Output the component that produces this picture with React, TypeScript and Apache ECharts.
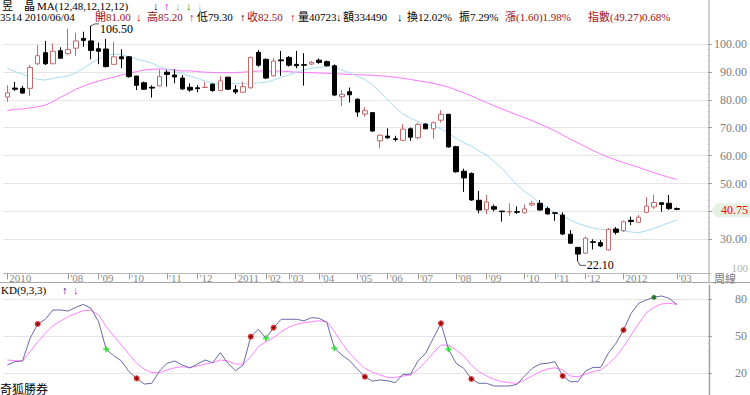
import React, { useEffect, useRef } from 'react';
import * as echarts from 'echarts';

// Weekly candles for 3514 昱晶, first week 2010/06/04
const opens = [81.0, 84.2, 84.1, 84.1, 92.9, 96.9, 92.9, 97.6, 96.5, 98.5, 102.0, 101.1, 98.3, 98.2, 92.7, 95.4, 95.4, 88.5, 86.1, 84.5, 85.0, 89.9, 88.9, 87.8, 84.5, 84.3, 84.4, 85.6, 83.3, 88.1, 83.6, 82.7, 84.3, 97.0, 94.5, 88.6, 94.3, 95.2, 92.7, 92.6, 92.8, 94.2, 93.7, 92.2, 81.1, 82.9, 80.2, 74.9, 75.4, 65.3, 67.0, 66.0, 65.5, 69.6, 66.4, 71.3, 69.6, 72.7, 74.8, 63.2, 54.4, 53.6, 44.0, 40.6, 41.7, 40.1, 39.8, 39.9, 39.5, 42.3, 42.9, 41.0, 39.5, 38.7, 31.8, 27.1, 25.0, 29.1, 28.8, 26.2, 33.7, 33.1, 36.8, 36.1, 39.7, 41.6, 43.1, 42.9, 41.0];
const closes = [82.5, 83.8, 82.4, 91.6, 95.8, 92.9, 97.4, 94.9, 98.0, 101.1, 101.3, 97.7, 97.4, 91.9, 95.4, 94.7, 88.3, 85.2, 83.8, 84.2, 88.3, 89.1, 88.2, 83.9, 83.5, 84.0, 84.5, 83.3, 86.8, 83.8, 82.8, 84.7, 95.2, 92.4, 87.8, 93.9, 94.0, 92.4, 92.2, 92.4, 93.4, 93.4, 92.2, 81.7, 82.0, 81.8, 75.6, 76.1, 68.8, 67.3, 66.4, 65.8, 69.5, 66.6, 71.2, 69.6, 71.8, 74.8, 63.1, 54.2, 52.0, 44.1, 40.5, 43.4, 40.8, 39.9, 40.0, 39.7, 40.9, 42.9, 40.5, 39.1, 39.3, 31.9, 28.6, 24.7, 30.4, 28.9, 27.6, 33.6, 32.5, 36.3, 36.4, 37.9, 41.9, 43.2, 42.5, 41.0, 40.75];
const lows = [79.3, 83.2, 82.2, 81.4, 92.5, 92.5, 92.8, 94.8, 96.2, 95.7, 99.0, 94.5, 92.8, 91.6, 92.7, 91.3, 87.9, 83.5, 83.5, 80.8, 84.8, 84.7, 85.9, 83.5, 82.9, 82.7, 84.2, 82.9, 83.2, 83.5, 82.1, 82.6, 84.0, 91.9, 87.4, 88.3, 88.6, 91.9, 91.3, 85.1, 92.4, 92.9, 91.9, 81.3, 77.8, 79.0, 73.9, 73.9, 68.6, 62.6, 66.0, 65.1, 65.2, 65.3, 66.0, 69.5, 66.0, 71.8, 62.8, 53.9, 47.0, 43.8, 39.3, 39.0, 40.0, 36.3, 38.4, 39.1, 39.3, 41.9, 40.2, 38.8, 36.6, 31.5, 28.4, 22.1, 24.7, 26.4, 27.2, 26.0, 31.7, 32.6, 35.1, 35.8, 39.3, 40.9, 39.9, 40.5, 40.4];
const highs = [85.2, 86.4, 85.0, 92.5, 99.6, 101.1, 100.2, 98.8, 105.5, 104.0, 104.4, 106.5, 100.5, 101.8, 100.8, 98.1, 95.7, 88.6, 86.5, 85.2, 90.9, 90.7, 90.9, 88.9, 85.9, 85.2, 86.4, 85.9, 88.5, 88.3, 85.3, 86.5, 95.5, 97.8, 94.8, 94.9, 97.5, 95.7, 97.5, 96.7, 93.9, 94.8, 94.1, 92.7, 83.5, 84.4, 80.5, 77.3, 75.5, 67.6, 69.8, 67.1, 71.3, 70.1, 71.8, 71.6, 72.2, 76.3, 74.8, 63.5, 55.3, 54.0, 47.3, 45.9, 42.5, 40.2, 42.9, 41.8, 42.5, 43.8, 44.1, 41.7, 39.7, 39.7, 33.3, 27.3, 31.0, 30.0, 29.7, 34.0, 34.4, 36.7, 38.1, 38.7, 45.1, 46.0, 43.2, 45.9, 41.4];

const ma12 = [91.3, 90.1, 89.2, 88.1, 87.3, 87.1, 87.7, 88.1, 88.5, 89.7, 91.3, 93.1, 94.6, 96.1, 96.4, 96.1, 95.5, 94.6, 93.9, 93.1, 91.9, 91.0, 90.1, 89.5, 88.5, 87.7, 86.7, 85.9, 85.6, 85.7, 85.9, 85.9, 85.9, 86.1, 86.3, 87.1, 88.1, 88.9, 89.9, 90.7, 91.3, 91.6, 91.9, 91.6, 90.7, 89.7, 88.5, 87.3, 85.3, 82.9, 79.9, 77.3, 74.9, 73.4, 72.2, 71.3, 70.6, 69.6, 68.0, 66.2, 64.6, 63.4, 61.6, 60.2, 57.8, 55.4, 52.4, 49.5, 47.1, 45.3, 42.9, 41.3, 39.5, 38.4, 36.9, 35.7, 34.8, 34.0, 33.6, 33.3, 33.3, 33.0, 32.6, 32.4, 33.0, 33.9, 34.9, 36.0, 36.9];
const ma48 = [76.1, 76.6, 76.7, 77.1, 77.5, 78.1, 79.3, 80.9, 82.3, 83.8, 84.9, 85.9, 86.7, 87.5, 88.1, 88.9, 89.5, 90.1, 90.7, 90.9, 91.1, 90.9, 90.7, 90.3, 90.4, 90.1, 89.9, 89.8, 89.7, 89.7, 89.8, 89.9, 90.1, 90.3, 90.3, 90.3, 90.3, 90.1, 89.9, 89.8, 89.7, 89.6, 89.5, 89.3, 89.2, 89.1, 89.0, 88.9, 88.8, 88.6, 88.4, 88.1, 87.7, 87.3, 86.8, 86.4, 85.9, 85.3, 84.5, 83.5, 82.5, 81.4, 80.2, 79.0, 77.8, 76.7, 75.7, 74.6, 73.6, 72.5, 71.3, 70.1, 68.8, 67.4, 65.9, 64.6, 63.2, 61.8, 60.6, 59.4, 58.4, 57.5, 56.6, 55.8, 54.8, 53.9, 53.0, 52.2, 51.5];

const kLine = [26.7, 29.4, 30.0, 48.4, 60.0, 63.8, 71.3, 71.3, 70.5, 73.5, 75.9, 72.7, 61.8, 39.4, 34.3, 30.0, 21.3, 15.9, 11.3, 11.9, 21.8, 28.1, 30.0, 26.7, 24.3, 27.5, 30.8, 28.6, 36.7, 28.1, 22.1, 26.7, 49.7, 55.7, 48.4, 57.0, 63.8, 63.8, 63.8, 62.6, 65.1, 64.6, 61.3, 40.3, 34.8, 30.2, 23.5, 17.2, 13.6, 14.6, 14.0, 12.4, 19.2, 19.2, 30.2, 36.2, 48.4, 60.5, 39.4, 28.1, 24.0, 15.4, 11.9, 11.9, 9.7, 9.7, 9.7, 11.1, 17.8, 24.0, 27.5, 28.1, 29.4, 17.8, 13.2, 13.2, 21.8, 24.8, 24.8, 36.2, 44.3, 55.1, 68.6, 76.8, 79.5, 81.6, 82.7, 80.8, 75.9];
const dLine = [30.8, 30.2, 30.0, 37.5, 45.6, 52.4, 58.6, 62.4, 65.9, 68.6, 70.8, 71.3, 67.3, 57.8, 50.2, 42.9, 35.4, 28.1, 23.4, 20.5, 20.5, 22.7, 24.5, 25.3, 24.8, 25.9, 27.5, 28.6, 30.8, 30.0, 27.5, 27.5, 33.4, 41.6, 45.6, 48.9, 53.7, 57.3, 59.7, 61.0, 61.8, 62.6, 61.8, 53.7, 44.3, 36.2, 30.0, 24.0, 21.0, 18.6, 16.7, 16.7, 17.8, 18.6, 23.2, 29.4, 36.7, 42.9, 42.9, 38.9, 34.0, 26.7, 21.3, 17.8, 15.1, 13.2, 12.4, 11.9, 14.6, 17.8, 21.3, 23.5, 24.5, 22.7, 17.8, 17.2, 19.4, 21.3, 22.7, 27.5, 33.4, 41.6, 51.0, 60.5, 69.1, 73.5, 76.2, 76.8, 75.9];

const kdUpMarks = [4, 17, 32, 35, 47, 57, 61, 73, 81];
const kdDownMarks = [13, 34, 43, 58];
const kdPeakMarks = [85];

const monthTicks: [number, string][] = [
  [0, '2010'], [8, "'08"], [12, "'09"], [16, "'10"], [21, "'11"], [25, "'12"],
  [30, '2011'], [34, "'02"], [37, "'03"], [41, "'04"], [46, "'05"], [50, "'06"],
  [54, "'07"], [59, "'08"], [63, "'09"], [68, "'10"], [72, "'11"], [76, "'12"],
  [81, '2012'], [88, "'03"],
];
const priceMin = 30;
const priceMax = 100;
const kdMin = 20;
const kdMax = 80;

const FONT = '"Liberation Serif","Noto Sans CJK TC",serif';
const GFONT = '11px Liberation Serif, Noto Sans CJK TC, serif';
const N_SLOTS = 93;
const UP = '#c26a6a';
const DARKRED = '#a01010';

function txt(id: string, x: number, y: number, text: string, fill: string, extra: any = {}) {
  return {
    id, type: 'text', x, y, z: 10,
    style: { text, fill, font: GFONT, verticalAlign: 'middle', align: 'left', ...extra },
  };
}

export default function App() {
  const ref = useRef<HTMLDivElement>(null);
  useEffect(() => {
    const el = ref.current!;
    const chart = echarts.init(el, undefined, { renderer: 'svg', width: 750, height: 395 });
    const categories = Array.from({ length: N_SLOTS }, (_, i) => String(i));
    const tickMap = new Map<number, string>(monthTicks);
    const candleData = opens.map((o, i) => [o, closes[i], lows[i], highs[i]]);

    const plus = 'path://M2,0H4V2H6V4H4V6H2V4H0V2H2Z';

    const baseGraphic: any[] = [
      { id: 'axR1', type: 'line', shape: { x1: 709, y1: 0, x2: 709, y2: 282.5 }, style: { stroke: '#a0a0a0', lineWidth: 1 } },
      { id: 'axR2', type: 'line', shape: { x1: 709.5, y1: 284.5, x2: 709.5, y2: 395 }, style: { stroke: '#a0a0a0', lineWidth: 1.5 } },
      { id: 'sep', type: 'line', shape: { x1: 0, y1: 282.5, x2: 750, y2: 282.5 }, style: { stroke: '#a8a8a8', lineWidth: 1 } },
      // header line 1
      txt('h1a', 2, 6, '昱', '#000'),
      txt('h1b', 24, 6, '晶', '#000'),
      txt('h1c', 37, 6, 'MA(12,48,12,12,12)', '#000'),
      txt('h1d', 153, 6, '↓', '#000080'),
      txt('h1e', 164, 6, '↑', '#ff00ff'),
      txt('h1f', 175, 6, '↓', '#a0a0a0'),
      txt('h1g', 186, 6, '↓', '#00a000'),
      txt('h1h', 197, 6, '↓', '#80c8f0'),
      // header line 2
      txt('h2a', 0, 17, '3514 2010/06/04', '#000'),
      txt('h2b', 95, 17, '開81.00', DARKRED),
      txt('h2c', 136, 17, '↓', '#d00000'),
      txt('h2d', 147, 17, '高85.20', DARKRED),
      txt('h2e', 189, 17, '↑', '#d00000'),
      txt('h2f', 197, 17, '低79.30', '#000'),
      txt('h2g', 240, 17, '↑', '#000'),
      txt('h2h', 247, 17, '收82.50', DARKRED),
      txt('h2i', 290, 17, '↑', DARKRED),
      txt('h2j', 298, 17, '量40723', '#000'),
      txt('h2k', 336, 17, '↓', '#000'),
      txt('h2l', 343, 17, '額334490', '#000'),
      txt('h2m', 397, 17, '↓', '#000'),
      txt('h2n', 407, 17, '換12.02%', '#000'),
      txt('h2o', 459, 17, '振7.29%', '#000'),
      txt('h2p', 505, 17, '漲(1.60)1.98%', DARKRED),
      txt('h2q', 588, 17, '指數(49.27)0.68%', DARKRED),
      // right of x band
      txt('r100', 748, 268, '100', '#b0b0b0', { align: 'right' }),
      txt('week', 714, 279, '周線', '#808080'),
      // KD header
      txt('kd1', 1, 289.5, 'KD(9,3,3)', '#000'),
      txt('kd2', 62, 289.5, '↑', '#000080'),
      txt('kd3', 73, 289.5, '↓', '#ff00ff'),
      txt('brand', 0, 388, '奇狐勝券', '#000', { font: '12px Noto Sans CJK TC, sans-serif' }),
    ];

    const buildOption = (graphic: any[]) => ({
      animation: false,
      backgroundColor: '#ffffff',
      grid: [
        { left: 3.5, right: 38, top: 44, height: 195.3 },
        { left: 3.5, right: 38, top: 299.3, height: 74 },
      ],
      xAxis: [
        {
          type: 'category', gridIndex: 0, data: categories, boundaryGap: true, offset: 34,
          axisLine: { show: true, lineStyle: { color: '#b0b0b0', type: 'dotted' } },
          axisTick: { show: true, interval: (i: number) => tickMap.has(i), alignWithLabel: true, length: 6, lineStyle: { color: '#999' } },
          axisLabel: {
            show: true, interval: (i: number) => tickMap.has(i),
            formatter: (_v: string, i: number) => tickMap.get(i) ?? '',
            align: 'left', margin: -1, padding: [0, 0, 0, 2], color: '#888', fontSize: 11, lineHeight: 11, fontFamily: FONT,
          },
          splitLine: { show: false },
        },
        {
          type: 'category', gridIndex: 1, data: categories, boundaryGap: true, show: false,
        },
      ],
      yAxis: [
        {
          type: 'value', gridIndex: 0, position: 'right', min: priceMin, max: priceMax, interval: 10, offset: -3,
          axisLine: { show: false },
          axisTick: { show: true, length: 4, lineStyle: { color: '#a0a0a0' } },
          minorTick: { show: true, splitNumber: 5, length: 2, lineStyle: { color: '#b8b8b8' } },
          axisLabel: {
            formatter: (v: number) => (v === 40 ? '' : v.toFixed(2)),
            align: 'right', margin: 39, color: '#808080', fontSize: 12, fontFamily: FONT,
          },
          splitLine: { show: true, lineStyle: { color: '#cccccc', type: 'dotted' } },
        },
        {
          type: 'value', gridIndex: 1, position: 'right', min: kdMin, max: kdMax, interval: 30, offset: -3,
          axisLine: { show: false },
          axisTick: { show: true, length: 4, lineStyle: { color: '#a0a0a0' } },
          minorTick: { show: true, splitNumber: 5, length: 2, lineStyle: { color: '#b8b8b8' } },
          axisLabel: { formatter: (v: number) => String(v), align: 'right', margin: 39, color: '#808080', fontSize: 12, fontFamily: FONT },
          splitLine: { show: true, lineStyle: { color: '#cccccc', type: 'dotted' } },
        },
      ],
      series: [
        {
          name: 'MA48', type: 'line', xAxisIndex: 0, yAxisIndex: 0, data: ma48, symbol: 'none', clip: false,
          lineStyle: { color: '#ff77ff', width: 1 }, z: 2,
        },
        {
          name: 'MA12', type: 'line', xAxisIndex: 0, yAxisIndex: 0, data: ma12, symbol: 'none', clip: false,
          lineStyle: { color: '#a8dcf5', width: 1 }, z: 2,
        },
        {
          name: 'K', type: 'candlestick', xAxisIndex: 0, yAxisIndex: 0, data: candleData, barWidth: 5, clip: false, z: 3,
          itemStyle: { color: '#ffffff', color0: '#000000', borderColor: UP, borderColor0: '#000000', borderWidth: 1 },
        },
        {
          name: 'Dline', type: 'line', xAxisIndex: 1, yAxisIndex: 1, data: dLine, symbol: 'none', clip: false,
          lineStyle: { color: '#ff80ff', width: 1 },
        },
        {
          name: 'Kline', type: 'line', xAxisIndex: 1, yAxisIndex: 1, data: kLine, symbol: 'none', clip: false,
          lineStyle: { color: '#6a6aa8', width: 1 },
        },
        {
          type: 'scatter', xAxisIndex: 1, yAxisIndex: 1, clip: false, symbol: 'circle', symbolSize: 6, z: 5,
          itemStyle: { color: '#e01010' }, data: kdUpMarks.map((i) => [i, kLine[i]]),
        },
        {
          type: 'scatter', xAxisIndex: 1, yAxisIndex: 1, clip: false, symbol: plus, symbolSize: 4, z: 6,
          itemStyle: { color: '#700000' }, data: kdUpMarks.map((i) => [i, kLine[i]]),
        },
        {
          type: 'scatter', xAxisIndex: 1, yAxisIndex: 1, clip: false, symbol: plus, symbolSize: 6, z: 5,
          itemStyle: { color: '#22dd22' }, data: kdDownMarks.map((i) => [i, kLine[i]]),
        },
        {
          type: 'scatter', xAxisIndex: 1, yAxisIndex: 1, clip: false, symbol: 'circle', symbolSize: 5, z: 5,
          itemStyle: { color: '#006600' }, data: kdPeakMarks.map((i) => [i, kLine[i]]),
        },
      ],
      graphic,
    });

    chart.setOption(buildOption(baseGraphic));

    const hiVal = Math.max(...highs);
    const hiIdx = highs.indexOf(hiVal);
    const loVal = Math.min(...lows);
    const loIdx = lows.indexOf(loVal);
    const lastClose = closes[closes.length - 1];
    const ph = chart.convertToPixel({ gridIndex: 0 }, [hiIdx, hiVal]) as number[];
    const pl = chart.convertToPixel({ gridIndex: 0 }, [loIdx, loVal]) as number[];
    const pc = chart.convertToPixel({ gridIndex: 0 }, [closes.length - 1, lastClose]) as number[];
    const cy = pc[1] + 1;

    const extra: any[] = [
      { id: 'hiLine', type: 'polyline', z: 10, shape: { points: [[ph[0], ph[1]], [ph[0] + 4, ph[1] - 2], [ph[0] + 8, ph[1] - 2]] }, style: { stroke: '#555', lineWidth: 1, fill: 'none' } },
      txt('hiTxt', ph[0] + 9, ph[1] + 3, hiVal.toFixed(2), '#000', { font: '12px Liberation Serif, serif' }),
      { id: 'loLine', type: 'polyline', z: 10, shape: { points: [[pl[0], pl[1]], [pl[0] + 2, pl[1] + 4], [pl[0] + 8, pl[1] + 4]] }, style: { stroke: '#555', lineWidth: 1, fill: 'none' } },
      txt('loTxt', pl[0] + 9, pl[1] + 4, loVal.toFixed(2), '#000', { font: '12px Liberation Serif, serif' }),
      { id: 'lastBg', type: 'polygon', z: 9, shape: { points: [[711, cy], [717, cy - 7], [750, cy - 7], [750, cy + 7], [717, cy + 7]] }, style: { fill: '#e4f2e4' } },
      txt('lastTxt', 748, cy, lastClose.toFixed(2), '#ff0000', { align: 'right', font: '12px Liberation Serif, serif' }),
    ];

    chart.setOption(buildOption([...baseGraphic, ...extra]), true);

    return () => chart.dispose();
  }, []);

  return (
    <div
      ref={ref}
      style={{ position: 'fixed', left: 0, top: 0, width: 750, height: 395, background: '#fff' }}
    />
  );
}
